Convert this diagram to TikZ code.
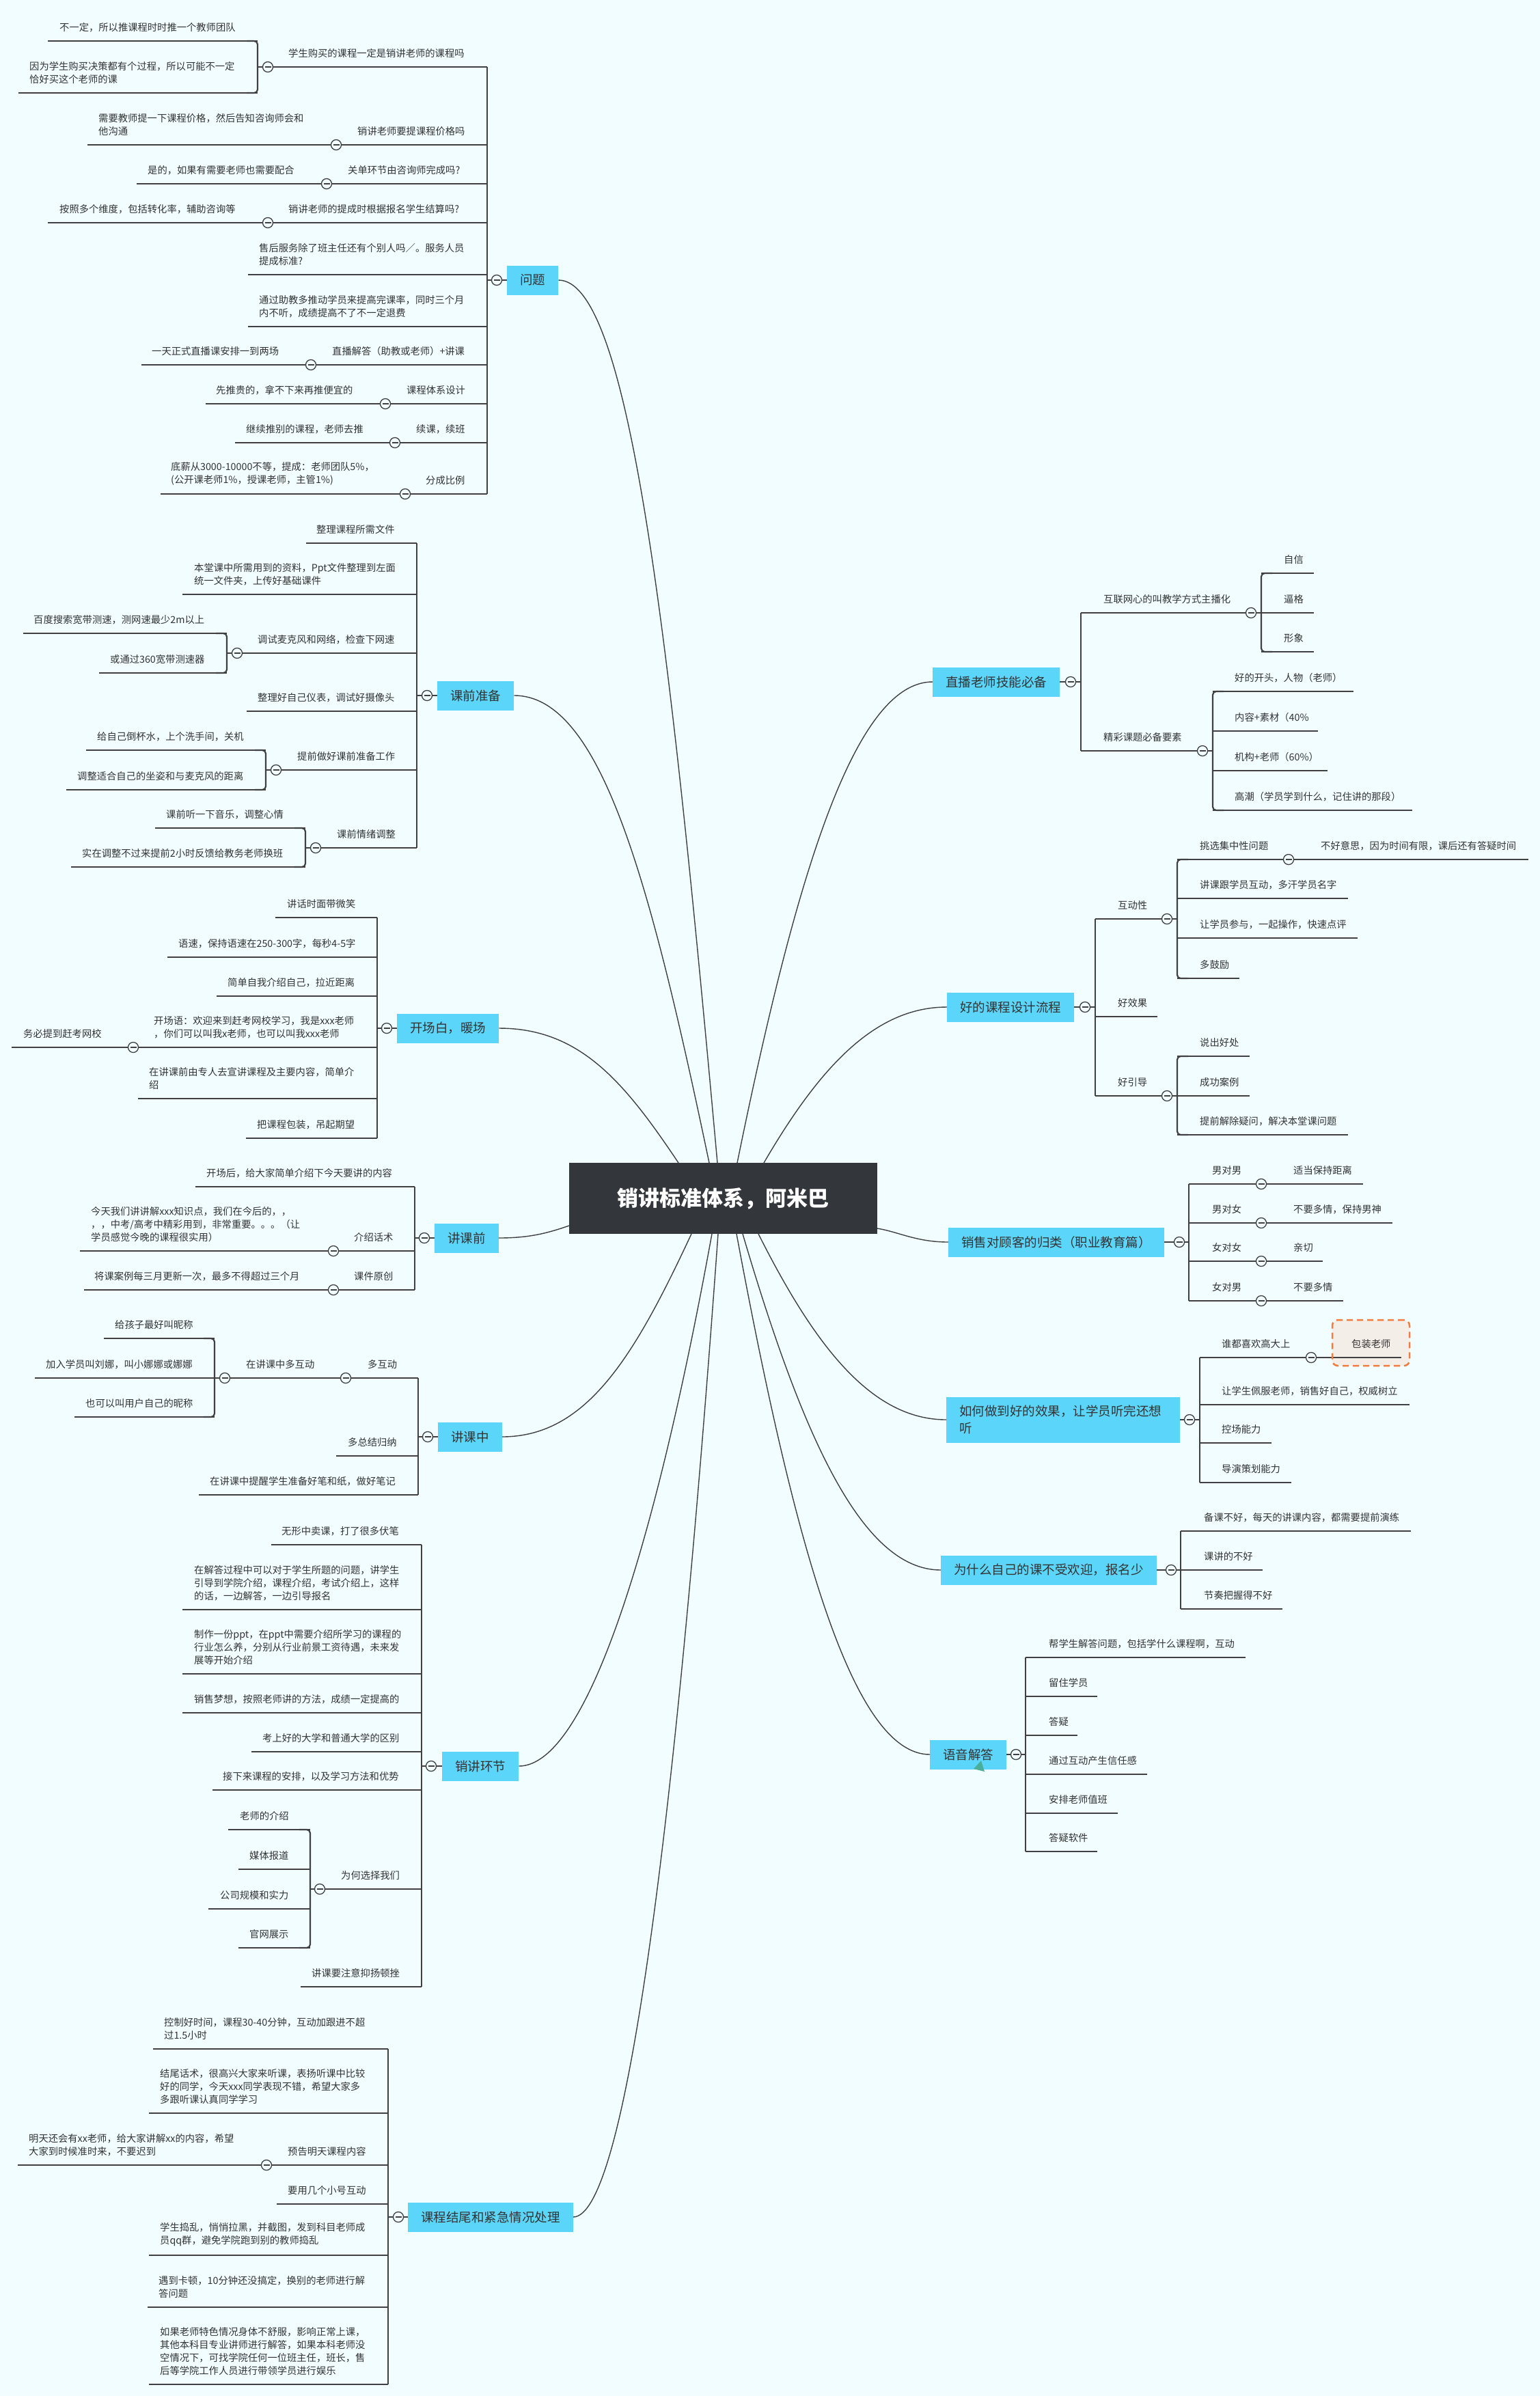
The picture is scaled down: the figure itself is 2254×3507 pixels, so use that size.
\documentclass[tikz,border=0pt]{standalone}
\usepackage{fontspec}
\setmainfont{Noto Sans CJK SC}
\usetikzlibrary{calc}
\definecolor{bgc}{HTML}{F1FDFF}
\definecolor{mainc}{HTML}{5CD5FB}
\definecolor{rootc}{HTML}{33363B}
\definecolor{linec}{HTML}{404040}
\definecolor{txtc}{HTML}{333333}
\definecolor{orangec}{HTML}{F47B3B}
\definecolor{beigec}{HTML}{F4EEE8}
\definecolor{greenc}{HTML}{4AAF9A}
\tikzset{
 ln/.style={draw=linec, line width=2.2pt},
 crv/.style={draw=linec, line width=1.4pt},
 leaf/.style={anchor=south west, inner sep=0pt, yshift=13pt, align=left, text=txtc, font=\fontsize{14.3}{19}\selectfont},
 mainbox/.style={fill=mainc, text=txtc, inner xsep=19pt, inner ysep=0pt, minimum height=43pt, font=\fontsize{18.5}{25}\selectfont, anchor=west},
 rootbox/.style={fill=rootc, text=white, minimum width=451pt, minimum height=104pt, inner sep=0pt, font=\fontsize{31}{36}\selectfont\bfseries},
 coll/.style={circle, draw=linec, line width=1.3pt, fill=bgc, minimum size=15pt, inner sep=0pt,
   path picture={\draw[linec, line width=1.3pt] ([xshift=-4.5pt]path picture bounding box.center) -- ([xshift=4.5pt]path picture bounding box.center);}},
 lbr/.style={ln, rounded corners=5pt},
}
\newcommand\LeafT[6]{\draw[ln] (#4,#3) -- (#5,#3); \node[leaf] (#1) at (#2,#3) {#6};}
\newcommand\LBr[3]{\draw[lbr] (#1-16,#2) -- (#1,#2) -- (#1,#3) -- (#1-16,#3);}
\newcommand\RBr[3]{\draw[lbr] (#1+16,#2) -- (#1,#2) -- (#1,#3) -- (#1+16,#3);}
\newcommand\Coll[2]{\node[coll] at (#1,#2) {};}
\begin{document}
\begin{tikzpicture}[x=1pt,y=-1pt]
\fill[bgc] (0,0) rectangle (2254,3507);
\useasboundingbox (0,0) rectangle (2254,3507);

% main nodes
\node[mainbox] (q) at (742,410) {问题};
\node[mainbox] (kq) at (640,1018) {课前准备};
\node[mainbox] (kc) at (581,1505) {开场白，暖场};
\node[mainbox] (jq) at (636,1812) {讲课前};
\node[mainbox] (jz) at (641,2103) {讲课中};
\node[mainbox] (xj) at (647,2585) {销讲环节};
\node[mainbox] (jw) at (597,3245) {课程结尾和紧急情况处理};
\node[mainbox] (zb) at (1365,998) {直播老师技能必备};
\node[mainbox] (hk) at (1386,1474) {好的课程设计流程};
\node[mainbox] (xs) at (1388,1818) {销售对顾客的归类（职业教育篇）};
\node[mainbox, text width=304pt, align=left, minimum height=67pt] (rh) at (1385,2078) {如何做到好的效果，让学员听完还想\\听};
\node[mainbox] (ws) at (1377,2298) {为什么自己的课不受欢迎，报名少};
\node[mainbox] (yy) at (1361,2568) {语音解答};

% root attachment points
\coordinate (r1) at (993,1702);
\coordinate (r2) at (1038,1702);
\coordinate (r3) at (1050,1702);
\coordinate (r4) at (1079,1702);
\coordinate (r5) at (1118,1702);
\coordinate (b1) at (1012,1806);
\coordinate (b2) at (1042,1806);
\coordinate (b3) at (1051,1806);
\coordinate (b4) at (1078,1806);
\coordinate (b5) at (1087,1806);
\coordinate (b6) at (1110,1806);
\coordinate (lft) at (833,1794);
\coordinate (rgt) at (1284,1798);

% curves
\draw[crv] (q.east) .. controls (921,410) and (980,927) .. (r3);
\draw[crv] (kq.east) .. controls (880,1018) and (952,1292) .. (r2);
\draw[crv] (kc.east) .. controls (849,1505) and (914,1584) .. (r1);
\draw[crv] (jq.east) .. controls (775,1812) and (801,1805) .. (lft);
\draw[crv] (jz.east) .. controls (859,2103) and (929,1984) .. (b1);
\draw[crv] (xj.east) .. controls (857,2585) and (957,2273) .. (b2);
\draw[crv] (jw.east) .. controls (916,3245) and (989,2669) .. (b3);
\draw[crv] (zb.west) .. controls (1251,998) and (1165,1280) .. (r4);
\draw[crv] (hk.west) .. controls (1279,1474) and (1198,1565) .. (r5);
\draw[crv] (xs.west) .. controls (1341,1818) and (1315,1803) .. (rgt);
\draw[crv] (rh.west) .. controls (1275,2078) and (1192,1969) .. (b6);
\draw[crv] (ws.west) .. controls (1261,2298) and (1174,2101) .. (b5);
\draw[crv] (yy.west) .. controls (1248,2568) and (1163,2263) .. (b4);

\node[rootbox] (root) at (1058.5,1754) {销讲标准体系，阿米巴};

% ===== 问题 =====
\draw[ln] (713,98) -- (713,723);
\draw[ln] (713,410) -- (q.west);
\LeafT{q1}{422}{98}{377}{713}{学生购买的课程一定是销讲老师的课程吗}
\LeafT{q1a}{87}{60}{70}{377}{不一定，所以推课程时时推一个教师团队}
\LeafT{q1b}{43}{136}{27}{377}{因为学生购买决策都有个过程，所以可能不一定\\恰好买这个老师的课}
\LBr{377}{60}{136}
\LeafT{q2}{523}{212}{492}{713}{销讲老师要提课程价格吗}
\LeafT{q2a}{144}{212}{128}{492}{需要教师提一下课程价格，然后告知咨询师会和\\他沟通}
\LeafT{q3}{509}{269}{478}{713}{关单环节由咨询师完成吗?}
\LeafT{q3a}{216}{269}{200}{478}{是的，如果有需要老师也需要配合}
\LeafT{q4}{422}{326}{392}{713}{销讲老师的提成时根据报名学生结算吗?}
\LeafT{q4a}{87}{326}{70}{392}{按照多个维度，包括转化率，辅助咨询等}
\LeafT{q5}{379}{402}{363}{713}{售后服务除了班主任还有个别人吗／。服务人员\\提成标准?}
\LeafT{q6}{379}{478}{363}{713}{通过助教多推动学员来提高完课率，同时三个月\\内不听，成绩提高不了不一定退费}
\LeafT{q7}{486}{534}{455}{713}{直播解答（助教或老师）+讲课}
\LeafT{q7a}{222}{534}{207}{455}{一天正式直播课安排一到两场}
\LeafT{q8}{595}{591}{564}{713}{课程体系设计}
\LeafT{q8a}{316}{591}{301}{564}{先推贵的，拿不下来再推便宜的}
\LeafT{q9}{609}{648}{578}{713}{续课，续班}
\LeafT{q9a}{360}{648}{344}{578}{继续推别的课程，老师去推}
\LeafT{q10}{623}{723}{593}{713}{分成比例}
\LeafT{q10a}{250}{723}{235}{593}{底薪从3000-10000不等，提成：老师团队5\%，\\(公开课老师1\%，授课老师，主管1\%)}

% ===== 课前准备 =====
\draw[ln] (610,795) -- (610,1241);
\draw[ln] (610,1018) -- (kq.west);
\LeafT{k1}{463}{795}{448}{610}{整理课程所需文件}
\LeafT{k2}{284}{870}{267}{610}{本堂课中所需用到的资料，Ppt文件整理到左面\\统一文件夹，上传好基础课件}
\LeafT{k3}{377}{956}{332}{610}{调试麦克风和网络，检查下网速}
\LeafT{k3a}{49}{927}{34}{332}{百度搜索宽带测速，测网速最少2m以上}
\LeafT{k3b}{161}{985}{145}{332}{或通过360宽带测速器}
\LBr{332}{927}{985}
\LeafT{k4}{377}{1041}{361}{610}{整理好自己仪表，调试好摄像头}
\LeafT{k5}{435}{1127}{389}{610}{提前做好课前准备工作}
\LeafT{k5a}{142}{1098}{126}{389}{给自己倒杯水，上个洗手间，关机}
\LeafT{k5b}{113}{1156}{97}{389}{调整适合自己的坐姿和与麦克风的距离}
\LBr{389}{1098}{1156}
\LeafT{k6}{493}{1241}{447}{610}{课前情绪调整}
\LeafT{k6a}{243}{1212}{227}{447}{课前听一下音乐，调整心情}
\LeafT{k6b}{120}{1269}{104}{447}{实在调整不过来提前2小时反馈给教务老师换班}
\LBr{447}{1212}{1269}

% ===== 开场白 =====
\draw[ln] (552,1343) -- (552,1666);
\draw[ln] (552,1505) -- (kc.west);
\LeafT{c1}{420}{1343}{403}{552}{讲话时面带微笑}
\LeafT{c2}{261}{1401}{245}{552}{语速，保持语速在250-300字，每秒4-5字}
\LeafT{c3}{333}{1458}{317}{552}{简单自我介绍自己，拉近距离}
\LeafT{c4}{225}{1533}{195}{552}{开场语：欢迎来到赶考网校学习，我是xxx老师\\，你们可以叫我x老师，也可以叫我xxx老师}
\LeafT{c4a}{34}{1533}{17}{195}{务必提到赶考网校}
\LeafT{c5}{218}{1608}{202}{552}{在讲课前由专人去宣讲课程及主要内容，简单介\\绍}
\LeafT{c6}{376}{1666}{360}{552}{把课程包装，吊起期望}

% ===== 讲课前 =====
\draw[ln] (607,1737) -- (607,1888);
\draw[ln] (607,1812) -- (jq.west);
\LeafT{j1}{302}{1737}{286}{607}{开场后，给大家简单介绍下今天要讲的内容}
\LeafT{j2}{518}{1831}{488}{607}{介绍话术}
\LeafT{j2a}{133}{1831}{117}{488}{今天我们讲讲解xxx知识点，我们在今后的，，\\，，中考/高考中精彩用到，非常重要。。。（让\\学员感觉今晚的课程很实用）}
\LeafT{j3}{518}{1888}{488}{607}{课件原创}
\LeafT{j3a}{138}{1888}{123}{488}{将课案例每三月更新一次，最多不得超过三个月}

% ===== 讲课中 =====
\draw[ln] (612,2017) -- (612,2188);
\draw[ln] (612,2103) -- (jz.west);
\LeafT{z1}{538}{2017}{506}{612}{多互动}
\LeafT{z1a}{360}{2017}{314}{506}{在讲课中多互动}
\LeafT{z1a1}{168}{1959}{152}{314}{给孩子最好叫昵称}
\LeafT{z1a2}{67}{2017}{51}{314}{加入学员叫刘娜，叫小娜娜或娜娜}
\LeafT{z1a3}{125}{2074}{109}{314}{也可以叫用户自己的昵称}
\LBr{314}{1959}{2074}
\LeafT{z2}{509}{2131}{492}{612}{多总结归纳}
\LeafT{z3}{307}{2188}{291}{612}{在讲课中提醒学生准备好笔和纸，做好笔记}

% ===== 销讲环节 =====
\draw[ln] (617,2261) -- (617,2908);
\draw[ln] (617,2585) -- (xj.west);
\LeafT{x1}{412}{2261}{397}{617}{无形中卖课，打了很多伏笔}
\LeafT{x2}{284}{2356}{267}{617}{在解答过程中可以对于学生所题的问题，讲学生\\引导到学院介绍，课程介绍，考试介绍上，这样\\的话，一边解答，一边引导报名}
\LeafT{x3}{284}{2450}{267}{617}{制作一份ppt，在ppt中需要介绍所学习的课程的\\行业怎么养，分别从行业前景工资待遇，未来发\\展等开始介绍}
\LeafT{x4}{284}{2507}{267}{617}{销售梦想，按照老师讲的方法，成绩一定提高的}
\LeafT{x5}{384}{2564}{368}{617}{考上好的大学和普通大学的区别}
\LeafT{x6}{326}{2620}{311}{617}{接下来课程的安排，以及学习方法和优势}
\LeafT{x7}{499}{2765}{454}{617}{为何选择我们}
\LeafT{x7a}{351}{2678}{334}{454}{老师的介绍}
\LeafT{x7b}{365}{2736}{349}{454}{媒体报道}
\LeafT{x7c}{322}{2794}{305}{454}{公司规模和实力}
\LeafT{x7d}{365}{2851}{349}{454}{官网展示}
\LBr{454}{2678}{2851}
\LeafT{x8}{456}{2908}{440}{617}{讲课要注意抑扬顿挫}

% ===== 课程结尾 =====
\draw[ln] (568,2999) -- (568,3490);
\draw[ln] (568,3245) -- (jw.west);
\LeafT{w1}{240}{2999}{224}{568}{控制好时间，课程30-40分钟，互动加跟进不超\\过1.5小时}
\LeafT{w2}{234}{3093}{218}{568}{结尾话术，很高兴大家来听课，表扬听课中比较\\好的同学，今天xxx同学表现不错，希望大家多\\多跟听课认真同学学习}
\LeafT{w3}{421}{3169}{390}{568}{预告明天课程内容}
\LeafT{w3a}{42}{3169}{26}{390}{明天还会有xx老师，给大家讲解xx的内容，希望\\大家到时候准时来，不要迟到}
\LeafT{w4}{421}{3226}{405}{568}{要用几个小号互动}
\LeafT{w5}{234}{3301}{218}{568}{学生捣乱，悄悄拉黑，并截图，发到科目老师成\\员qq群，避免学院跑到别的教师捣乱}
\LeafT{w6}{232}{3377}{216}{568}{遇到卡顿，10分钟还没搞定，换别的老师进行解\\答问题}
\LeafT{w7}{234}{3490}{218}{568}{如果老师特色情况身体不舒服，影响正常上课，\\其他本科目专业讲师进行解答，如果本科老师没\\空情况下，可找学院任何一位班主任，班长，售\\后等学院工作人员进行带领学员进行娱乐}

% ===== 直播老师技能必备 =====
\draw[ln] (1582,897) -- (1582,1099);
\draw[ln] (zb.east) -- (1582,998);
\LeafT{zb1}{1615}{897}{1582}{1846}{互联网心的叫教学方式主播化}
\LeafT{zb1a}{1879}{839}{1846}{1923}{自信}
\LeafT{zb1b}{1879}{897}{1846}{1923}{逼格}
\LeafT{zb1c}{1879}{954}{1846}{1923}{形象}
\RBr{1846}{839}{954}
\LeafT{zb2}{1615}{1099}{1582}{1775}{精彩课题必备要素}
\LeafT{zb2a}{1807}{1012}{1775}{1981}{好的开头，人物（老师）}
\LeafT{zb2b}{1807}{1070}{1775}{1929}{内容+素材（40\%}
\LeafT{zb2c}{1807}{1128}{1775}{1943}{机构+老师（60\%）}
\LeafT{zb2d}{1807}{1186}{1775}{2067}{高潮（学员学到什么，记住讲的那段）}
\RBr{1775}{1012}{1186}

% ===== 好的课程设计流程 =====
\draw[ln] (1603,1345) -- (1603,1604);
\draw[ln] (hk.east) -- (1603,1474);
\LeafT{hk1}{1636}{1345}{1603}{1723}{互动性}
\LeafT{hk1a}{1756}{1258}{1723}{1886}{挑选集中性问题}
\LeafT{hk1a1}{1933}{1258}{1886}{2237}{不好意思，因为时间有限，课后还有答疑时间}
\LeafT{hk1b}{1756}{1315}{1723}{1973}{讲课跟学员互动，多汗学员名字}
\LeafT{hk1c}{1756}{1373}{1723}{1987}{让学员参与，一起操作，快速点评}
\LeafT{hk1d}{1756}{1432}{1723}{1814}{多鼓励}
\RBr{1723}{1258}{1432}
\LeafT{hk2}{1636}{1488}{1603}{1694}{好效果}
\LeafT{hk3}{1636}{1604}{1603}{1723}{好引导}
\LeafT{hk3a}{1756}{1546}{1723}{1829}{说出好处}
\LeafT{hk3b}{1756}{1604}{1723}{1829}{成功案例}
\LeafT{hk3c}{1756}{1661}{1723}{1973}{提前解除疑问，解决本堂课问题}
\RBr{1723}{1546}{1661}

% ===== 销售对顾客的归类 =====
\draw[ln] (1740,1733) -- (1740,1904);
\draw[ln] (xs.east) -- (1740,1818);
\LeafT{xs1}{1774}{1733}{1740}{1846}{男对男}
\LeafT{xs1a}{1893}{1733}{1846}{1995}{适当保持距离}
\LeafT{xs2}{1774}{1790}{1740}{1846}{男对女}
\LeafT{xs2a}{1893}{1790}{1846}{2038}{不要多情，保持男神}
\LeafT{xs3}{1774}{1846}{1740}{1846}{女对女}
\LeafT{xs3a}{1893}{1846}{1846}{1936}{亲切}
\LeafT{xs4}{1774}{1904}{1740}{1846}{女对男}
\LeafT{xs4a}{1893}{1904}{1846}{1966}{不要多情}

% ===== 如何做到好的效果 =====
\node[fill=beigec, rounded corners=8pt, minimum width=113pt, minimum height=67pt, inner sep=0pt] (pkbg) at (2006.5,1965.5) {};
\draw[ln] (1756,1987) -- (1756,2170);
\draw[ln] (rh.east) -- (1756,2078);
\LeafT{rh1}{1788}{1987}{1756}{1919}{谁都喜欢高大上}
\LeafT{rh1a}{1978}{1987}{1919}{2051}{包装老师}
\node[draw=orangec, dash pattern=on 9pt off 6pt, line width=2.5pt, rounded corners=8pt, minimum width=113pt, minimum height=67pt, inner sep=0pt] (pk) at (pkbg.center) {};
\LeafT{rh2}{1788}{2056}{1756}{2063}{让学生佩服老师，销售好自己，权威树立}
\LeafT{rh3}{1788}{2112}{1756}{1861}{控场能力}
\LeafT{rh4}{1788}{2170}{1756}{1890}{导演策划能力}

% ===== 为什么 =====
\draw[ln] (1728,2241) -- (1728,2355);
\draw[ln] (ws.east) -- (1728,2298);
\LeafT{ws1}{1762}{2241}{1728}{2065}{备课不好，每天的讲课内容，都需要提前演练}
\LeafT{ws2}{1762}{2298}{1728}{1848}{课讲的不好}
\LeafT{ws3}{1762}{2355}{1728}{1877}{节奏把握得不好}

% ===== 语音解答 =====
\draw[ln] (1501,2426) -- (1501,2710);
\draw[ln] (yy.east) -- (1501,2568);
\LeafT{yy1}{1535}{2426}{1501}{1823}{帮学生解答问题，包括学什么课程啊，互动}
\LeafT{yy2}{1535}{2483}{1501}{1606}{留住学员}
\LeafT{yy3}{1535}{2540}{1501}{1577}{答疑}
\LeafT{yy4}{1535}{2597}{1501}{1679}{通过互动产生信任感}
\LeafT{yy5}{1535}{2654}{1501}{1636}{安排老师值班}
\LeafT{yy6}{1535}{2710}{1501}{1606}{答疑软件}
\fill[greenc] (1425,2589) -- (1436,2577) -- (1441,2593) -- cycle;

% ===== collapse circles =====
\Coll{727}{410}
\Coll{392}{98}\Coll{492}{212}\Coll{478}{269}\Coll{392}{326}\Coll{455}{534}\Coll{564}{591}\Coll{578}{648}\Coll{593}{723}
\Coll{625}{1018}
\Coll{347}{956}\Coll{404}{1127}\Coll{462}{1241}
\Coll{566}{1505}\Coll{195}{1533}
\Coll{621}{1812}\Coll{488}{1831}\Coll{488}{1888}
\Coll{626}{2103}\Coll{506}{2017}\Coll{329}{2017}
\Coll{631}{2585}\Coll{468}{2765}
\Coll{583}{3245}\Coll{390}{3169}
\Coll{1567}{998}\Coll{1831}{897}\Coll{1760}{1099}
\Coll{1588}{1474}\Coll{1708}{1345}\Coll{1886}{1258}\Coll{1708}{1604}
\Coll{1726}{1818}\Coll{1846}{1733}\Coll{1846}{1790}\Coll{1846}{1846}\Coll{1846}{1904}
\Coll{1741}{2078}\Coll{1919}{1987}
\Coll{1714}{2298}
\Coll{1487}{2568}
\end{tikzpicture}
\end{document}
